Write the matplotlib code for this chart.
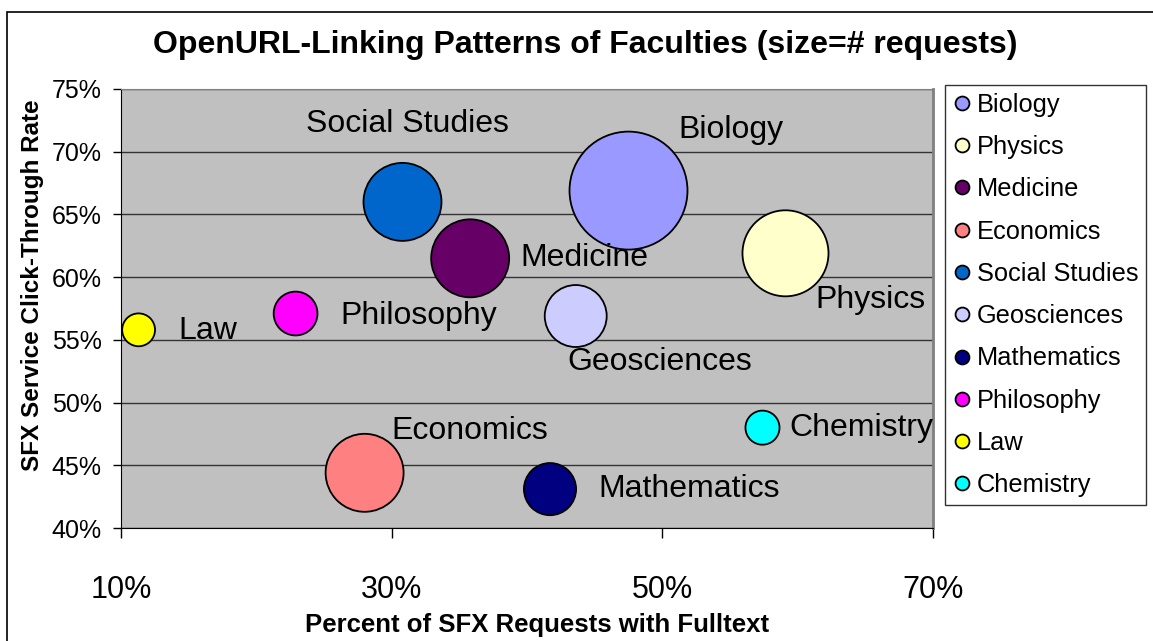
import matplotlib.pyplot as plt
from matplotlib.lines import Line2D
from matplotlib.patches import Rectangle
from matplotlib.ticker import FuncFormatter

plt.rcParams['font.family'] = ['Liberation Sans', 'DejaVu Sans']

# faculties, in legend order
faculties = ["Biology", "Physics", "Medicine", "Economics", "Social Studies",
             "Geosciences", "Mathematics", "Philosophy", "Law", "Chemistry"]
# percent of SFX requests with fulltext
fulltext = [47.5, 59.1, 35.8, 28.0, 30.8, 43.6, 41.7, 22.9, 11.3, 57.4]
# click-through rate
clickthrough = [66.9, 61.9, 61.5, 44.4, 66.0, 56.9, 43.1, 57.1, 55.8, 48.0]
# number of requests (relative units, bubble area)
requests = [3480, 1850, 1520, 1520, 1520, 960, 680, 480, 270, 290]

colores = ["#9999FF", "#FFFFCC", "#660066", "#FF8080", "#0066CC",
           "#CCCCFF", "#000080", "#FF00FF", "#FFFF00", "#00FFFF"]
# offset of each label from its bubble, in pixels
offsets = [(50, 61), (30, -47), (50, 0), (27, 42), (-96, 78),
           (-8, -46), (48, 0), (45, -2), (40, -1), (27, 0)]

fig = plt.figure(figsize=(11.53, 6.41), dpi=100)
ax = fig.add_axes([121/1153, 1 - 528/641, 812/1153, 439/641])
ax.set_facecolor("#C0C0C0")

# borde de la figura
fig.patches.append(Rectangle((7/1153, -0.1), 1.2, 1 - 12/641 + 0.1, transform=fig.transFigure,
                             fill=False, edgecolor="black", lw=1.2))

# area in pt^2: pixel radius^2 * (2*0.72)^2
sizes = [r * 2.0736 for r in requests]
ax.scatter(fulltext, clickthrough, s=sizes, c=colores, edgecolors="black",
           linewidths=1.3, zorder=3)

for nombre, x, y, (dx, dy) in zip(faculties, fulltext, clickthrough, offsets):
    ax.annotate(nombre, (x, y), xytext=(dx, dy), textcoords="offset pixels",
                ha="left", va="center", fontsize=23, zorder=4)

ax.set_xlim(10, 70)
ax.set_ylim(40, 75)
ax.set_xticks([10, 30, 50, 70])
ax.set_yticks(range(40, 76, 5))
ax.xaxis.set_major_formatter(FuncFormatter(lambda v, p: f"{v:.0f}%"))
ax.yaxis.set_major_formatter(FuncFormatter(lambda v, p: f"{v:.0f}%"))
ax.tick_params(axis="x", labelsize=22, length=7, pad=27, width=1)
ax.tick_params(axis="y", labelsize=18, length=6, pad=8, width=1)
ax.yaxis.grid(True, color="#333333", lw=1)
ax.set_axisbelow(True)
ax.spines["top"].set_color("#808080")
ax.spines["right"].set_color("#808080")
ax.spines["right"].set_linewidth(2)

fig.text(585/1153, 1 - 45/641, "OpenURL-Linking Patterns of Faculties (size=# requests)",
         ha="center", va="center", fontsize=23, fontweight="bold")
fig.text(537/1153, 1 - 625/641, "Percent of SFX Requests with Fulltext",
         ha="center", va="center", fontsize=18.5, fontweight="bold")
fig.text(33/1153, 1 - 285/641, "SFX Service Click-Through Rate", rotation=90,
         ha="center", va="center", fontsize=17.5, fontweight="bold")

handles = [Line2D([], [], marker="o", ls="", markersize=10, markerfacecolor=c,
                  markeredgecolor="black", markeredgewidth=1.3) for c in colores]
leg = fig.legend(handles, faculties, loc="upper left", bbox_to_anchor=(945/1153, 1 - 85/641),
                 fontsize=18.3, frameon=True, fancybox=False, edgecolor="black",
                 handlelength=0.7, handletextpad=0.25, labelspacing=0.72, borderpad=0.3,
                 borderaxespad=0)
leg.get_frame().set_linewidth(1)

plt.savefig("out.png", dpi=100)
